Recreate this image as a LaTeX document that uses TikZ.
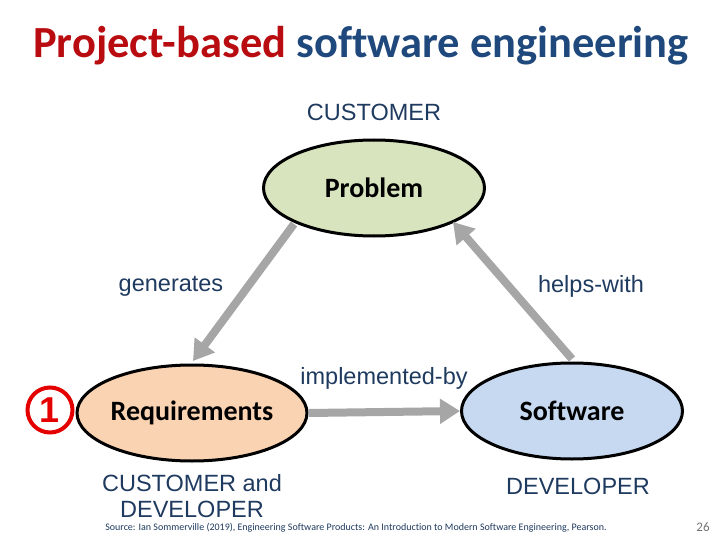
\documentclass[tikz,border=0pt]{standalone}
\usepackage{fontspec}
\setmainfont{Carlito}[Ligatures=NoCommon]
\newfontfamily\arialf{Liberation Sans}
\usetikzlibrary{shapes.geometric,arrows.meta}
\definecolor{titred}{HTML}{B80C10}
\definecolor{titblue}{HTML}{1F497D}
\definecolor{lblue}{HTML}{1F3A5F}
\definecolor{agray}{HTML}{A6A6A6}
\definecolor{pgreen}{HTML}{D7E4BD}
\definecolor{rpeach}{HTML}{FAD3B2}
\definecolor{sblue}{HTML}{C6D9F1}
\tikzset{
  ell/.style={ellipse, draw=black, line width=3pt, minimum width=221pt, minimum height=96pt, inner sep=0pt,
    font=\fontsize{28}{32}\selectfont\bfseries},
  lbl/.style={font=\arialf\fontsize{23.5}{27}\selectfont, text=lblue, inner sep=0pt},
  conn/.style={draw=agray, line width=8pt, -{Triangle[width=24pt,length=20pt]}, shorten <=0pt}
}
\begin{document}
\begin{tikzpicture}[x=1pt,y=-1pt]
\useasboundingbox (0,0) rectangle (720,540);
\node[inner sep=0pt, font=\fontsize{44.5}{50}\selectfont\bfseries] (title) at (361,46)
  {\textcolor{titred}{Project-based} \textcolor{titblue}{software engineering}};
\node[lbl] (cust) at (374,112) {CUSTOMER};
\node[ell, fill=pgreen] (prob) at (374,188) {Problem};
\node[ell, fill=rpeach] (req) at (192,413) {Requirements};
\node[ell, fill=sblue] (soft) at (572,411) {Software};
\coordinate (g1) at (294,224);
\coordinate (g2) at (193,361);
\coordinate (h1) at (572,359);
\coordinate (h2) at (453,222);
\draw[conn] (g1) -- (g2);
\draw[conn] (h1) -- (h2);
\draw[conn] (req.east) -- (soft.west);
\node[lbl] (gen) at (171,286) {generates};
\node[lbl] (help) at (591,286) {helps-with};
\node[lbl] (impl) at (384,378) {implemented-by};
\node[lbl, align=center, font=\arialf\fontsize{23.5}{26}\selectfont] (cd) at (192,496) {CUSTOMER and\\DEVELOPER};
\node[lbl] (dev) at (578,486) {DEVELOPER};
\node[circle, draw=red!90!black, line width=4pt, minimum size=45pt, inner sep=0pt,
  text=red!90!black, font=\arialf\fontsize{36}{36}\selectfont\bfseries] (one) at (50,410) {1};
\node[inner sep=0pt, font=\fontsize{10}{12}\selectfont, text=lblue] (src) at (356,528)
  {Source: Ian Sommerville (2019), Engineering Software Products: An Introduction to Modern Software Engineering, Pearson.};
\node[inner sep=0pt, font=\fontsize{13}{15}\selectfont, text=black!55] (pg) at (703,527) {26};
\end{tikzpicture}
\end{document}
